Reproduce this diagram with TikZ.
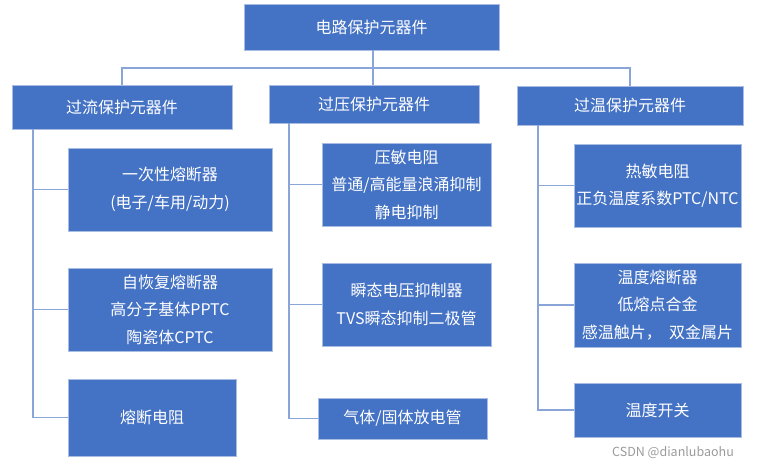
\documentclass[tikz,border=0pt]{standalone}
\usepackage{fontspec}
\setmainfont{Noto Sans CJK SC}
\definecolor{boxfill}{HTML}{4472C4}
\definecolor{boxline}{HTML}{A9BDE3}
\definecolor{conn}{HTML}{8AA5D8}
\definecolor{wm}{HTML}{9A9A9A}
\tikzset{
  box/.style={draw=boxline, line width=0.8pt, fill=boxfill, text=white,
    font=\fontsize{16}{27.5}\selectfont, align=center, inner sep=0pt},
  wire/.style={draw=conn, line width=1.5pt}
}
\begin{document}
\begin{tikzpicture}[x=1pt,y=-1pt]
\useasboundingbox (0,0) rectangle (761,469);
% level 0
\node[box, minimum width=255pt, minimum height=46pt] (top) at (371.5,27) {电路保护元器件};
% level 1
\node[box, minimum width=220pt, minimum height=44pt] (L1) at (122,107) {过流保护元器件};
\node[box, minimum width=210pt, minimum height=38pt] (L2) at (374,104) {过压保护元器件};
\node[box, minimum width=226pt, minimum height=39pt] (L3) at (630,105.5) {过温保护元器件};
% column 1
\node[box, minimum width=204pt, minimum height=83pt] (a1) at (170,189.5) {一次性熔断器\\(电子/车用/动力)};
\node[box, minimum width=204pt, minimum height=83pt] (b1) at (170,309.5) {自恢复熔断器\\高分子基体PPTC\\陶瓷体CPTC};
\node[box, minimum width=168pt, minimum height=77pt] (c1) at (152,417.5) {熔断电阻};
% column 2
\node[box, minimum width=169pt, minimum height=83pt] (a2) at (406.5,184.5) {压敏电阻\\普通/高能量浪涌抑制\\静电抑制};
\node[box, minimum width=169pt, minimum height=83pt] (b2) at (406.5,304.5) {瞬态电压抑制器\\TVS瞬态抑制二极管};
\node[box, minimum width=169pt, minimum height=41pt] (c2) at (402.5,418.5) {气体/固体放电管};
% column 3
\node[box, minimum width=167pt, minimum height=83pt] (a3) at (657.5,185.5) {热敏电阻\\正负温度系数PTC/NTC};
\node[box, minimum width=167pt, minimum height=84pt] (b3) at (657.5,305) {温度熔断器\\低熔点合金\\感温触片，\ \ 双金属片};
\node[box, minimum width=167pt, minimum height=54pt] (c3) at (657.5,410) {温度开关};
% connectors level 0 -> 1
\coordinate (j) at (373,68);
\draw[wire] (top.south -| j) -- (j);
\draw[wire] (L1.north) |- (j) -| (L3.north);
\draw[wire] (j) -- (j |- L2.north);
% column stems
\coordinate (s1) at (33,129);
\coordinate (s2) at (289,123);
\coordinate (s3) at (538,125);
\draw[wire] (s1) |- (a1.west);
\draw[wire] (s1) |- (b1.west);
\draw[wire] (s1) |- (c1.west);
\draw[wire] (s2) |- (a2.west);
\draw[wire] (s2) |- (b2.west);
\draw[wire] (s2) |- (c2.west);
\draw[wire] (s3) |- (a3.west);
\draw[wire] (s3) |- (b3.west);
\draw[wire] (s3) |- (c3.west);
% watermark
\node[text=wm, font=\fontsize{12.5}{15}\selectfont, inner sep=0pt] (wmk) at (673,453) {CSDN @dianlubaohu};
\end{tikzpicture}
\end{document}
